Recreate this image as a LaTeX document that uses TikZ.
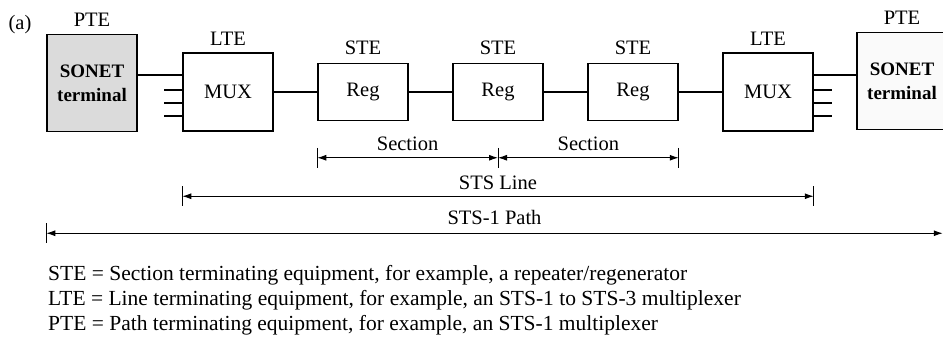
\documentclass[tikz,border=0pt]{standalone}
\usepackage{fontspec}
\setmainfont{Liberation Serif}
\usetikzlibrary{positioning,arrows.meta}
\tikzset{
  box/.style={rectangle, draw=black, line width=1.5pt, minimum width=90pt, inner sep=0pt,
    font=\fontsize{20.5}{24}\selectfont},
  muxbox/.style={box, minimum height=78pt},
  regbox/.style={box, minimum height=57pt},
  termbox/.style={box, minimum height=97pt, align=center,
    font=\fontsize{19}{24}\selectfont\bfseries},
  tag/.style={inner sep=0pt, font=\fontsize{20.5}{24}\selectfont},
  legend/.style={tag, anchor=base west, font=\fontsize{21.5}{25}\selectfont},
  link/.style={line width=2pt},
  span/.style={line width=1pt, {Latex[length=9pt,width=6pt]}-{Latex[length=9pt,width=6pt]}},
  tick/.style={line width=1pt}
}
\begin{document}
\begin{tikzpicture}[x=1pt, y=-1pt]
  \useasboundingbox (0,0) rectangle (943,343);

  % equipment chain
  \node[muxbox, label={[tag, label distance=7pt]above:LTE}] (muxL) at (228,92) {MUX};
  \node[regbox, label={[tag, label distance=8pt]above:STE}] (reg1) [right = 43.5pt of muxL] {Reg};
  \node[regbox, label={[tag, label distance=8pt]above:STE}] (reg2) [right = 43.5pt of reg1] {Reg};
  \node[regbox, label={[tag, label distance=8pt]above:STE}] (reg3) [right = 43.5pt of reg2] {Reg};
  \node[muxbox, label={[tag, label distance=7pt]above:LTE}] (muxR) [right = 43.5pt of reg3] {MUX};
  \node[termbox, fill=gray!28, label={[tag, label distance=7pt]above:PTE}]
    (sonetL) [left = 44.5pt of muxL, yshift=9pt] {SONET\\terminal};
  \node[termbox, fill=gray!4, label={[tag, label distance=7pt]above:PTE}]
    (sonetR) [right = 42.5pt of muxR, yshift=11pt] {SONET\\terminal};
  \node[tag] (fig) at (20,25) {(a)};

  % links
  \draw[link] (muxL.160 -| sonetL.east) -- (muxL.160);
  \draw[link] (muxR.20) -- (muxR.20 -| sonetR.west);
  \draw[link] (muxL) -- (reg1);
  \draw[link] (reg1) -- (reg2);
  \draw[link] (reg2) -- (reg3);
  \draw[link] (reg3) -- (muxR);
  \foreach \dy in {-2,11,24} {
    \draw[link] (muxL.west) ++(0,\dy) -- ++(-18,0);
    \draw[link] (muxR.east) ++(0,\dy) -- ++(18,0);
  }

  % spans
  \path (reg1.south west) ++(0,36.5) coordinate (secA);
  \coordinate (secB) at (reg2.south |- secA);
  \coordinate (secC) at (reg3.south east |- secA);
  \path (muxL.south west) ++(0,64.5) coordinate (lineA);
  \coordinate (lineB) at (muxR.south east |- lineA);
  \path (sonetL.south west) ++(0,101) coordinate (pathA);
  \path (pathA -| sonetR.east) ++(-5,0) coordinate (pathB);

  \draw[span] (secA) -- node[tag, above=7pt] {Section} (secB);
  \draw[span] (secB) -- node[tag, above=7pt] {Section} (secC);
  \draw[span] (lineA) -- node[tag, above=6pt] {STS Line} (lineB);
  \draw[span] (pathA) -- node[tag, above=8pt] {STS-1 Path} (pathB);
  \foreach \p in {secA,secB,secC,lineA,lineB,pathA}
    \draw[tick] (\p) ++(0,-10) -- ++(0,20);

  % legend
  \node[legend] (legS) at (48,280)
    {STE = Section terminating equipment, for example, a repeater/regenerator};
  \node[legend] (legL) at (48,305)
    {LTE = Line terminating equipment, for example, an STS-1 to STS-3 multiplexer};
  \node[legend] (legP) at (48,330)
    {PTE = Path terminating equipment, for example, an STS-1 multiplexer};
\end{tikzpicture}
\end{document}
